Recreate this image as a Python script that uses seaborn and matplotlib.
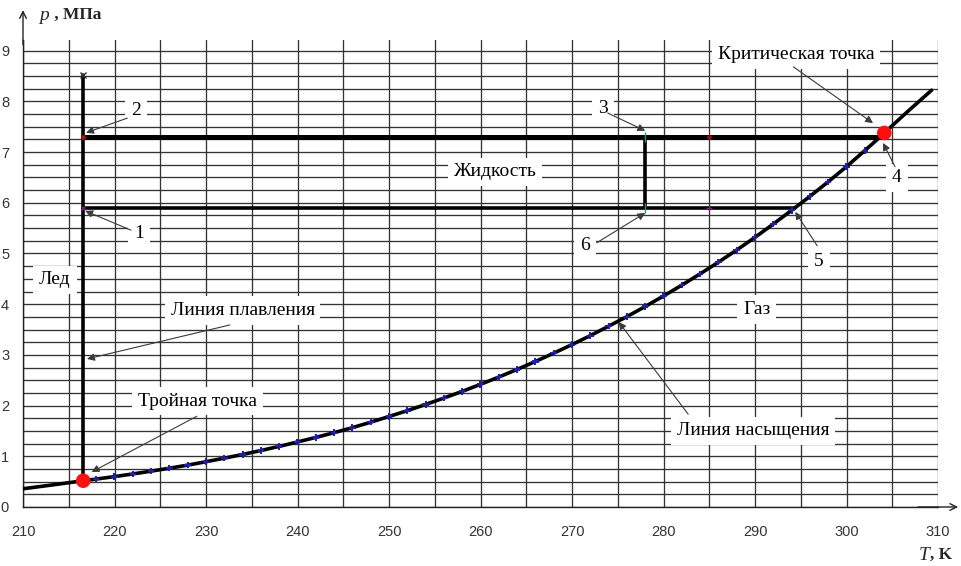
import numpy as np
import pandas as pd
import matplotlib
matplotlib.use("Agg")
import matplotlib.pyplot as plt
import seaborn as sns

# Saturation (vapour-liquid) line of CO2, T in K, p in MPa
sat_T = [210.0, 213.0, 216.58, 218, 220, 222, 224, 226, 228, 230, 232, 234, 236, 238,
         240, 242, 244, 246, 248, 250, 252, 254, 256, 258, 260, 262, 264, 266, 268,
         270, 272, 274, 276, 278, 280, 282, 284, 286, 288, 290, 292, 294, 296, 298,
         300, 302, 304, 304.13, 306.5, 309.3]
sat_p = [0.36, 0.43, 0.518, 0.551, 0.599, 0.652, 0.707, 0.765, 0.826, 0.893, 0.963,
         1.036, 1.114, 1.195, 1.283, 1.372, 1.466, 1.565, 1.672, 1.785, 1.900, 2.022,
         2.149, 2.280, 2.419, 2.563, 2.713, 2.870, 3.034, 3.203, 3.380, 3.566, 3.755,
         3.954, 4.161, 4.375, 4.598, 4.828, 5.068, 5.318, 5.581, 5.850, 6.126, 6.414,
         6.713, 7.029, 7.350, 7.377, 7.77, 8.22]

# Tabulated points marked on the saturation line
pts_T = [218, 220, 222, 224, 226, 228, 230, 232, 234, 236, 238, 240, 242, 244, 246,
         248, 250, 252, 254, 256, 258, 260, 262, 264, 266, 268, 270, 272, 274, 276,
         278, 280, 282, 284, 286, 288, 290, 292, 294, 296, 298, 300, 302, 304]
pts_p = [0.551, 0.599, 0.652, 0.707, 0.765, 0.826, 0.893, 0.963, 1.036, 1.114, 1.195,
         1.283, 1.372, 1.466, 1.565, 1.672, 1.785, 1.900, 2.022, 2.149, 2.280, 2.419,
         2.563, 2.713, 2.870, 3.034, 3.203, 3.380, 3.566, 3.755, 3.954, 4.161, 4.375,
         4.598, 4.828, 5.068, 5.318, 5.581, 5.850, 6.126, 6.414, 6.713, 7.029, 7.350]

# Special points
triple_T, triple_p = 216.58, 0.518
crit_T, crit_p = 304.13, 7.377

# Melting line (vertical) and the process cycle 1-2-3-4 / 1-6-5
melt_T = [216.58, 216.58]
melt_p = [0.518, 8.52]
p_high = 7.3
p_low = 5.9
T_left = 216.58
T_mid = 278.0
T_high_end = 303.8
T_low_end = 294.4
T_ref = 285.0

sns.set_theme(style="white")
plt.rcParams["font.family"] = ["Liberation Serif", "DejaVu Serif"]
plt.rcParams["mathtext.fontset"] = "stix"

fig = plt.figure(figsize=(9.61, 5.66), dpi=100)
ax = fig.add_axes([23 / 961, 59 / 566, 915 / 961, 467 / 566])
ax.set_facecolor("white")

# Saturation line with its tabulated points
sat = pd.DataFrame({"T": sat_T, "p": sat_p})
sns.lineplot(data=sat, x="T", y="p", ax=ax, color="black", lw=2.6, zorder=3,
             sort=False, estimator=None)
pts = pd.DataFrame({"T": pts_T, "p": pts_p})
sns.scatterplot(data=pts, x="T", y="p", ax=ax, marker="P", s=22, color="#1f1fa8",
                edgecolor="none", zorder=4)
ax.set_xlabel("")
ax.set_ylabel("")

ax.set_xlim(210, 310)
ax.set_ylim(0, 9.21)
ax.set_xticks(np.arange(210, 311, 10))
ax.set_xticks(np.arange(215, 310, 10), minor=True)
ax.set_yticks(np.arange(0, 10, 1))
ax.set_yticks(np.arange(0.25, 9.1, 0.25), minor=True)
ax.grid(True, which="both", color="#333333", lw=0.95)
ax.set_axisbelow(True)
for s in ("top", "right"):
    ax.spines[s].set_visible(False)
for s in ("left", "bottom"):
    ax.spines[s].set_color("#222222")
    ax.spines[s].set_linewidth(1.0)
ax.tick_params(which="major", length=4, width=0.9, color="#222222",
               labelsize=10.5, labelcolor="#333333")
ax.tick_params(axis="x", which="major", pad=9)
ax.tick_params(axis="y", which="major", pad=6)
ax.tick_params(which="minor", length=0)
for lab in ax.get_xticklabels() + ax.get_yticklabels():
    lab.set_fontfamily("Liberation Sans")

# Melting line
ax.plot(melt_T, melt_p, color="black", lw=2.6, zorder=3)
ax.plot([melt_T[1]], [melt_p[1]], marker="x", ms=4, color="#333333", mew=1, zorder=4)

# Process lines
ax.plot([T_left, T_high_end], [p_high, p_high], color="black", lw=3.6, zorder=3)
ax.plot([T_left, T_low_end], [p_low, p_low], color="black", lw=2.6, zorder=3)
ax.plot([T_mid, T_mid], [p_low, p_high], color="black", lw=2.6, zorder=3)

# Small state markers on the process lines
ax.plot([T_left], [p_high], marker="o", ms=3.5, color="#b01010", mew=0, zorder=5)
ax.plot([T_left], [p_low], marker="x", ms=3.5, color="#7a1a7a", mew=1, zorder=5)
ax.plot([T_mid, T_mid], [p_high, p_low], ls="none", marker="|", ms=7, color="#139a9a",
        mew=1, zorder=5)
ax.plot([T_ref], [p_high], marker="o", ms=3.5, color="#8a1010", mew=0, zorder=5)
ax.plot([T_ref], [p_low], marker="+", ms=5, color="#7a1a7a", mew=1, zorder=5)

# Triple and critical points
ax.scatter([triple_T, crit_T], [triple_p, crit_p], s=110, color="#ff1010",
           edgecolor="none", zorder=6)

box = dict(boxstyle="square,pad=0.3", fc="white", ec="none")
arrow = dict(arrowstyle="-|>", color="#3a3a3a", lw=0.8, mutation_scale=11,
             shrinkA=0, shrinkB=0)
fs = 14

labels = [
    ("Критическая точка", 294.5, 8.92),
    ("4", 305.5, 6.49),
    ("3", 273.4, 7.85),
    ("2", 222.35, 7.81),
    ("Жидкость", 261.6, 6.61),
    ("1", 222.7, 5.40),
    ("6", 271.4, 5.15),
    ("5", 297.0, 4.85),
    ("Лед", 213.5, 4.48),
    ("Линия плавления", 234.0, 3.87),
    ("Газ", 290.2, 3.89),
    ("Тройная точка", 229.1, 2.09),
    ("Линия насыщения", 289.8, 1.50),
]
for txt, x, y in labels:
    ax.text(x, y, txt, ha="center", va="center", fontsize=fs, color="black",
            bbox=box, zorder=7)

arrows = [
    ((294.2, 8.68), (302.9, 7.57)),
    ((305.3, 6.71), (304.0, 7.18)),
    ((273.9, 7.77), (278.0, 7.42)),
    ((221.4, 7.67), (216.9, 7.38)),
    ((221.8, 5.46), (216.8, 5.84)),
    ((272.7, 5.21), (278.0, 5.80)),
    ((296.8, 5.15), (294.4, 5.82)),
    ((232.6, 3.59), (217.0, 2.92)),
    ((229.0, 1.79), (217.5, 0.69)),
    ((282.7, 1.83), (275.1, 3.65)),
]
for start, tip in arrows:
    ax.annotate("", xy=tip, xytext=start, arrowprops=arrow, zorder=8)

# Axis arrows
ax_arrow = dict(arrowstyle="->", color="#222222", lw=1.0, mutation_scale=12,
                shrinkA=0, shrinkB=0)
ax.annotate("", xy=(0, 1.064), xytext=(0, 0.99), xycoords="axes fraction",
            arrowprops=ax_arrow, annotation_clip=False)
ax.annotate("", xy=(1.022, 0), xytext=(0.978, 0), xycoords="axes fraction",
            arrowprops=ax_arrow, annotation_clip=False)

# Axis titles
fig.text(39 / 961, 1 - 15 / 566, "p", fontsize=14, style="italic", va="center")
fig.text(50 / 961, 1 - 15 / 566, " , МПа", fontsize=12.5, fontweight="bold", va="center")
fig.text(919 / 961, 1 - 555 / 566, "T", fontsize=14, style="italic", va="center")
fig.text(930 / 961, 1 - 555 / 566, ", K", fontsize=12.5, fontweight="bold", va="center")

fig.savefig("out.png", dpi=100, facecolor="white")
